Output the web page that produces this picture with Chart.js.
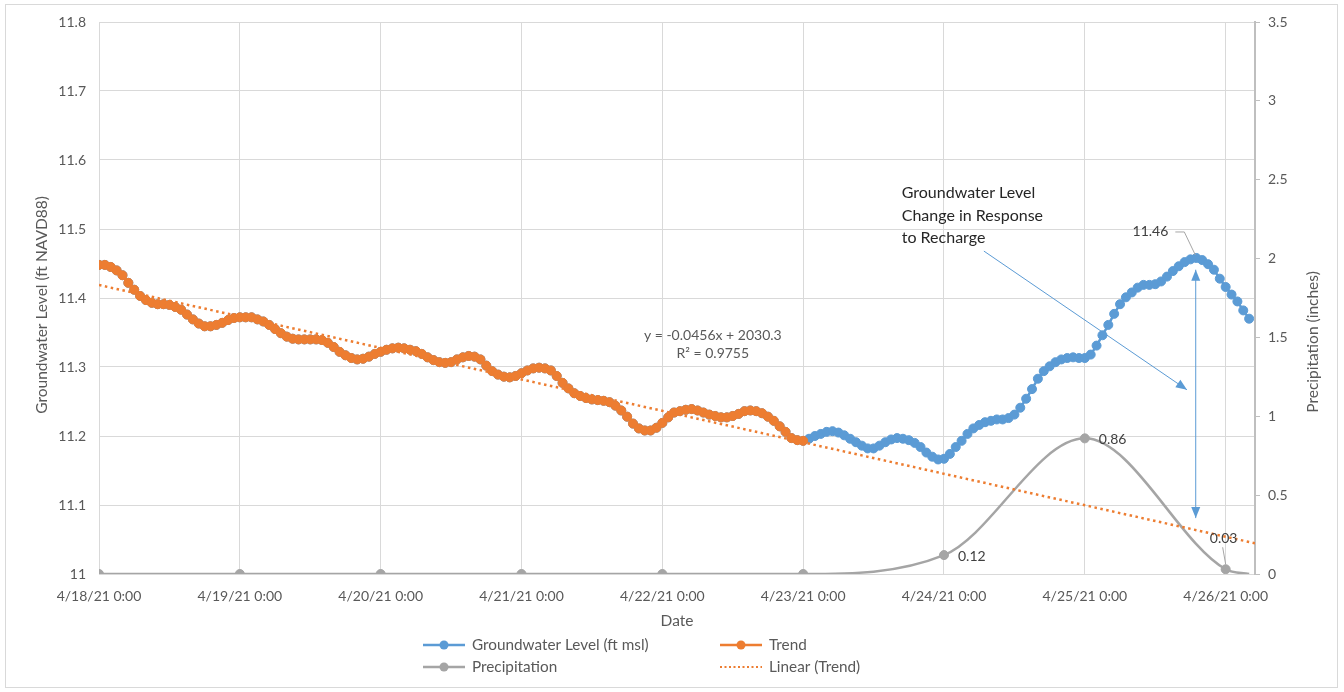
<!DOCTYPE html>
<html>
<head>
<meta charset="utf-8">
<script src="https://cdn.jsdelivr.net/npm/chart.js@4.4.0/dist/chart.umd.min.js"></script>
<style>
html,body{margin:0;padding:0;background:#fff;}
#wrap{width:1344px;height:692px;position:relative;}
</style>
</head>
<body>
<div id="wrap"><canvas id="c" width="1344" height="692"></canvas></div>
<script>
// ---------------- DATA ----------------
const dateLabels = ['4/18/21 0:00','4/19/21 0:00','4/20/21 0:00','4/21/21 0:00','4/22/21 0:00','4/23/21 0:00','4/24/21 0:00','4/25/21 0:00','4/26/21 0:00'];
const tickHours = [0,24,48,72,96,120,144,168,192];
const lastHour = 196;
const axisMaxHour = 197;
const trendEndHour = 120;

// hourly groundwater level (ft), 4/18/21 0:00 -> 4/26/21 4:00
const groundwaterLevel = [
  11.448,11.448,11.445,11.440,11.433,11.422,11.412,11.403,11.397,11.393,
  11.391,11.391,11.390,11.387,11.383,11.376,11.369,11.363,11.359,11.359,
  11.361,11.364,11.368,11.371,11.372,11.372,11.372,11.369,11.366,11.361,
  11.355,11.349,11.344,11.341,11.340,11.340,11.340,11.340,11.339,11.335,
  11.329,11.322,11.317,11.313,11.311,11.312,11.315,11.319,11.322,11.325,
  11.327,11.328,11.327,11.325,11.323,11.319,11.314,11.310,11.307,11.306,
  11.307,11.311,11.314,11.316,11.315,11.311,11.302,11.294,11.289,11.286,
  11.285,11.287,11.291,11.295,11.298,11.299,11.298,11.295,11.287,11.277,
  11.269,11.262,11.258,11.255,11.253,11.252,11.251,11.249,11.244,11.237,
  11.228,11.218,11.211,11.208,11.208,11.212,11.219,11.227,11.234,11.236,
  11.238,11.239,11.237,11.234,11.231,11.229,11.227,11.227,11.229,11.232,
  11.236,11.237,11.236,11.233,11.228,11.222,11.214,11.206,11.197,11.194,
  11.193,11.196,11.200,11.203,11.206,11.207,11.205,11.201,11.196,11.191,
  11.186,11.182,11.182,11.186,11.191,11.195,11.197,11.196,11.194,11.190,
  11.184,11.176,11.170,11.166,11.167,11.174,11.184,11.193,11.203,11.211,
  11.216,11.220,11.222,11.224,11.224,11.226,11.231,11.241,11.254,11.268,
  11.283,11.294,11.301,11.307,11.311,11.313,11.314,11.313,11.313,11.318,
  11.331,11.346,11.361,11.377,11.391,11.401,11.408,11.415,11.419,11.419,
  11.420,11.424,11.431,11.439,11.446,11.452,11.456,11.458,11.455,11.449,
  11.441,11.428,11.416,11.405,11.395,11.382,11.370
];
// "Trend" series = the record up to 4/23/21 0:00
const trendLevel = groundwaterLevel.slice(0, trendEndHour + 1);

const precipHours  = [0,24,48,72,96,120,144,168,192,196];
const precipValues = [0,0,0,0,0,0,0.12,0.86,0.03,0];

// linear trendline: slope from the displayed equation (ft per day)
const trendSlopePerDay = -0.0456;
const trendEquation = ['y = -0.0456x + 2030.3', 'R\u00B2 = 0.9755'];
const noteText = ['Groundwater Level', 'Change in Response', 'to Recharge'];

// ---------------- helpers ----------------
function fitIntercept(vals, slope){
  let sx=0, sy=0;
  vals.forEach((v,i)=>{sx+=i; sy+=v;});
  return sy/vals.length - slope*sx/vals.length;
}
const trendB = trendSlopePerDay/24;
const trendA = fitIntercept(trendLevel, trendB);

const FONT = 'Lato, "Open Sans", sans-serif';
const TXT = '#595959';
const BLUE = '#5B9BD5', ORANGE = '#ED7D31', GRAY = '#A5A5A5';

// annotation anchors (data space: hour, level)
const notes = {
  text: {h:136.8, v:11.552, lineGap:22.5},
  arrow1: {h0:150.8, v0:11.468, h1:185.4, v1:11.267},
  arrow2: {h:186.9, v0:11.441, v1:11.081},
  equation: {h:104.6, v:11.345, v2:11.319}
};

function arrowHead(ctx, x0, y0, x1, y1, len, wid){
  const a = Math.atan2(y1-y0, x1-x0);
  ctx.beginPath();
  ctx.moveTo(x1, y1);
  ctx.lineTo(x1 - len*Math.cos(a) + wid/2*Math.sin(a), y1 - len*Math.sin(a) - wid/2*Math.cos(a));
  ctx.lineTo(x1 - len*Math.cos(a) - wid/2*Math.sin(a), y1 - len*Math.sin(a) + wid/2*Math.cos(a));
  ctx.closePath();
  ctx.fill();
}

const framePlugin = {
  id:'frame',
  beforeDraw(chart){
    const ctx = chart.ctx;
    ctx.save();
    ctx.fillStyle='#fff';
    ctx.fillRect(0,0,chart.width,chart.height);
    ctx.strokeStyle='#D9D9D9';
    ctx.lineWidth=1;
    ctx.strokeRect(5.5,4.5,1332,683);
    ctx.restore();
  }
};

const extrasPlugin = {
  id:'extras',
  afterDatasetsDraw(chart){
    const ctx = chart.ctx;
    const xs = chart.scales.x, ys = chart.scales.y, y1 = chart.scales.y1;
    const X = h => xs.getPixelForValue(h);
    const Y = v => ys.getPixelForValue(v);
    ctx.save();

    // data labels - precipitation
    ctx.font = '14px ' + FONT;
    ctx.fillStyle = '#404040';
    ctx.textBaseline = 'middle';
    const pMeta = chart.getDatasetMeta(3);
    precipValues.forEach((v,i)=>{
      if (v <= 0) return;
      const pt = pMeta.data[i];
      const txt = v.toFixed(2);
      if (v < 0.05) {
        ctx.textAlign='center';
        ctx.fillText(txt, pt.x-2, pt.y-31);
        ctx.strokeStyle='#A6A6A6'; ctx.lineWidth=1;
        ctx.beginPath(); ctx.moveTo(pt.x-3, pt.y-22); ctx.lineTo(pt.x, pt.y-5); ctx.stroke();
      } else {
        ctx.textAlign='left';
        ctx.fillText(txt, pt.x+14, pt.y+1);
      }
    });

    // data label - groundwater maximum
    let mi = 0;
    groundwaterLevel.forEach((v,i)=>{ if (v > groundwaterLevel[mi]) mi = i; });
    const gp = chart.getDatasetMeta(2).data[mi];
    ctx.textAlign='right';
    ctx.fillText(groundwaterLevel[mi].toFixed(2), gp.x-28, gp.y-26);
    ctx.strokeStyle='#A6A6A6'; ctx.lineWidth=1;
    ctx.beginPath(); ctx.moveTo(gp.x-21, gp.y-26); ctx.lineTo(gp.x-12, gp.y-26); ctx.lineTo(gp.x-1, gp.y-3); ctx.stroke();

    // trendline equation
    ctx.font = '14px ' + FONT;
    ctx.fillStyle = TXT;
    ctx.textAlign='center';
    ctx.fillText(trendEquation[0], X(notes.equation.h), Y(notes.equation.v));
    ctx.fillText(trendEquation[1], X(notes.equation.h), Y(notes.equation.v2));

    // note text
    ctx.font = '16px ' + FONT;
    ctx.fillStyle = '#262626';
    ctx.textAlign='left';
    noteText.forEach((t,i)=> ctx.fillText(t, X(notes.text.h), Y(notes.text.v) + i*notes.text.lineGap));

    // arrows
    ctx.strokeStyle = BLUE; ctx.fillStyle = BLUE; ctx.lineWidth = 1;
    const a1 = notes.arrow1;
    let x0=X(a1.h0), yy0=Y(a1.v0), x1=X(a1.h1), yy1=Y(a1.v1);
    ctx.beginPath(); ctx.moveTo(x0,yy0); ctx.lineTo(x1,yy1); ctx.stroke();
    arrowHead(ctx, x0,yy0,x1,yy1, 11, 9);
    const a2 = notes.arrow2;
    const ax = X(a2.h), ay0 = Y(a2.v0), ay1 = Y(a2.v1);
    ctx.beginPath(); ctx.moveTo(ax,ay0); ctx.lineTo(ax,ay1); ctx.stroke();
    arrowHead(ctx, ax,ay1,ax,ay0, 11, 9);
    arrowHead(ctx, ax,ay0,ax,ay1, 11, 9);

    // axis titles (both read bottom to top)
    ctx.font = '15.5px ' + FONT;
    ctx.fillStyle = TXT;
    ctx.textAlign='center'; ctx.textBaseline='middle';
    ctx.save();
    ctx.translate(ys.left + 12, 305);
    ctx.rotate(-Math.PI/2);
    ctx.fillText('Groundwater Level (ft NAVD88)', 0, 0);
    ctx.restore();
    ctx.save();
    ctx.translate(y1.left + 58, 342);
    ctx.rotate(-Math.PI/2);
    ctx.fillText('Precipitation (inches)', 0, 0);
    ctx.restore();

    // legend
    const items = [
      {t:'Groundwater Level (ft msl)', c:BLUE, m:true, col:0, row:0},
      {t:'Trend', c:ORANGE, m:true, col:1, row:0},
      {t:'Precipitation', c:GRAY, m:true, col:0, row:1},
      {t:'Linear (Trend)', c:ORANGE, m:false, col:1, row:1}
    ];
    const colX = [423, 720], rowY = [645, 667];
    ctx.font = '15.3px ' + FONT;
    ctx.textBaseline='middle'; ctx.textAlign='left';
    items.forEach(it=>{
      const lx = colX[it.col], ly = rowY[it.row];
      ctx.strokeStyle = it.c; ctx.fillStyle = it.c;
      if (it.m) {
        ctx.lineWidth = 2.5; ctx.setLineDash([]);
        ctx.beginPath(); ctx.moveTo(lx, ly); ctx.lineTo(lx+42, ly); ctx.stroke();
        ctx.beginPath(); ctx.arc(lx+21, ly, 4.5, 0, Math.PI*2); ctx.fill();
      } else {
        ctx.lineWidth = 2; ctx.setLineDash([2,2.5]);
        ctx.beginPath(); ctx.moveTo(lx, ly); ctx.lineTo(lx+42, ly); ctx.stroke();
        ctx.setLineDash([]);
      }
      ctx.fillStyle = TXT;
      ctx.fillText(it.t, lx+49, ly);
    });

    ctx.restore();
  }
};

const toXY = (vals, xs) => vals.map((v,i)=>({x: xs ? xs[i] : i, y: v}));

new Chart(document.getElementById('c'), {
  type:'line',
  data:{
    datasets:[
      { label:'Linear (Trend)', yAxisID:'y', order:0,
        data:[{x:0, y:trendA}, {x:axisMaxHour, y:trendA + trendB*axisMaxHour}],
        borderColor:ORANGE, borderWidth:2.5, borderDash:[2.5,3.5], pointRadius:0, fill:false },
      { label:'Trend', yAxisID:'y', order:1,
        data:toXY(trendLevel),
        borderColor:ORANGE, backgroundColor:ORANGE, borderWidth:2.5,
        pointRadius:4.5, pointBorderWidth:1, pointBackgroundColor:ORANGE, pointBorderColor:ORANGE, tension:0 },
      { label:'Groundwater Level (ft msl)', yAxisID:'y', order:2,
        data:toXY(groundwaterLevel),
        borderColor:BLUE, backgroundColor:BLUE, borderWidth:2.5,
        pointRadius:4.5, pointBorderWidth:1, pointBackgroundColor:BLUE, pointBorderColor:BLUE, tension:0 },
      { label:'Precipitation', yAxisID:'y1', order:3,
        data:toXY(precipValues, precipHours),
        borderColor:GRAY, backgroundColor:GRAY, borderWidth:2.5,
        pointRadius: precipValues.map((v,i)=> i === precipValues.length-1 ? 0 : 4.5),
        pointBorderWidth:1, pointBackgroundColor:GRAY, pointBorderColor:GRAY,
        cubicInterpolationMode:'monotone' }
    ]
  },
  options:{
    responsive:false, animation:false, events:[],
    layout:{padding:{left:30, right:18, top:22, bottom:57.6}},
    plugins:{legend:{display:false}, tooltip:{enabled:false}},
    scales:{
      x:{ type:'linear', min:0, max:axisMaxHour,
        afterBuildTicks: s => { s.ticks = tickHours.map(v=>({value:v})); },
        afterFit: s => { s.height = 60.4; },
        ticks:{ autoSkip:false, maxRotation:0, minRotation:0, padding:14, color:TXT,
          font:{family:FONT, size:14},
          callback:(v,i)=> dateLabels[i] },
        grid:{ color:'#D9D9D9', drawTicks:false },
        border:{ color:'#D9D9D9' },
        title:{ display:true, text:'Date', color:TXT, font:{family:FONT, size:15.5} }
      },
      y:{ position:'left', min:11, max:11.8,
        afterFit: s => { s.width = 69; },
        ticks:{ stepSize:0.1, padding:13, color:TXT, font:{family:FONT, size:14},
          callback: v => String(Number(v.toFixed(1))) },
        grid:{ color:'#D9D9D9', drawTicks:false },
        border:{ display:false }
      },
      y1:{ position:'right', min:0, max:3.5,
        afterFit: s => { s.width = 71; },
        ticks:{ stepSize:0.5, padding:8, color:TXT, font:{family:FONT, size:14},
          callback: v => String(Number(v.toFixed(1))) },
        grid:{ drawOnChartArea:false, drawTicks:true, tickLength:5, tickColor:'#BFBFBF' },
        border:{ color:'#BFBFBF', width:2 }
      }
    }
  },
  plugins:[framePlugin, extrasPlugin]
});
</script>
</body>
</html>
